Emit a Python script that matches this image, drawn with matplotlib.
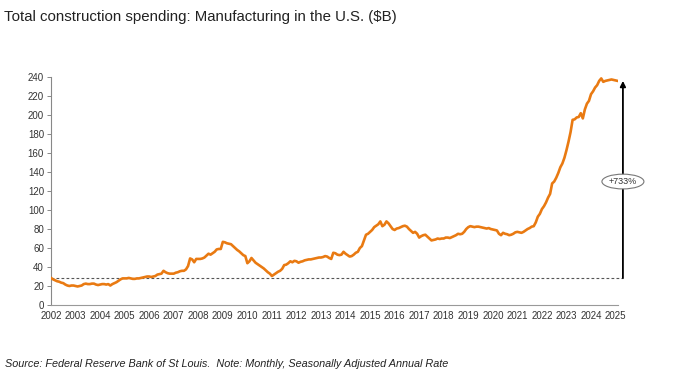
import matplotlib
matplotlib.use("Agg")
import matplotlib.pyplot as plt
import numpy as np

plt.rcParams['font.family'] = ['Liberation Sans', 'DejaVu Sans']

# monthly values, $B (Jan..Dec)
spend_2002 = [28.5, 27, 26, 25, 24.5, 23.5, 23, 21.5, 20.5, 20, 20.5, 20.5]
spend_2003 = [20, 19.5, 20, 20.5, 22, 22.5, 22, 22, 22.5, 22.5, 21.5, 21]
spend_2004 = [21.5, 22, 22, 21.5, 22, 20.5, 22, 23, 24, 25.5, 27, 28]
spend_2005 = [28, 28, 28.5, 28, 27.5, 27.5, 28, 28, 28.5, 29, 29.5, 30]
spend_2006 = [30, 29.5, 30, 30.5, 32, 32.5, 33, 36, 34.5, 33.5, 33, 33]
spend_2007 = [33, 34, 34.5, 35.5, 36, 36, 37.5, 41, 49, 48, 45, 48.5]
spend_2008 = [48.5, 48.5, 49, 50, 52, 54, 53, 54.5, 56, 58.5, 59, 59]
spend_2009 = [66.5, 66, 65, 64.5, 64, 62, 60, 58, 56.5, 54.5, 52.5, 51.5]
spend_2010 = [44, 46, 49.5, 47, 44.5, 43, 41.5, 40, 38.5, 36.5, 34.5, 33]
spend_2011 = [30.5, 32, 33.5, 35, 36, 38, 42, 42.5, 44, 46, 45, 46.5]
spend_2012 = [46, 44.5, 45.5, 46, 47, 47.5, 48, 48, 48.5, 49, 49.5, 50]
spend_2013 = [50, 50.5, 51.5, 51, 49.5, 48.5, 55, 54.5, 53, 52.5, 53, 56]
spend_2014 = [54, 52.5, 51, 51.5, 53, 55, 56, 60, 62, 68, 74, 75]
spend_2015 = [77, 79, 82, 83.5, 85, 88, 83, 84.5, 88, 86, 83, 80]
spend_2016 = [79, 80.5, 81, 82, 83, 83.5, 82.5, 80, 78, 76, 77, 75]
spend_2017 = [71, 72.5, 73.5, 74, 72, 70, 68, 68.5, 69, 70, 69.5, 70]
spend_2018 = [70, 71, 71, 70.5, 71.5, 72.5, 73.5, 75, 74.5, 75, 77, 80]
spend_2019 = [82, 83, 82.5, 82, 82.5, 82.5, 82, 81.5, 81, 80.5, 81, 80]
spend_2020 = [79.5, 79, 78.5, 75, 73.5, 76, 75, 74.5, 73.5, 74, 75, 76.5]
spend_2021 = [77, 76.5, 76, 77, 78.5, 80, 81, 82.5, 83, 87, 93, 96]
spend_2022 = [101, 104, 108, 113, 117, 128, 130, 134, 139, 145, 149, 155]
spend_2023 = [163, 172, 182, 195, 195.5, 197.5, 198, 202, 196.5, 206, 212, 215]
spend_2024 = [222, 225, 229, 231.5, 236, 238.6, 235, 236, 236.5, 237, 237.5, 237]
spend_2025 = [236.5, 236]

years = list(range(2002, 2026))
year_tick_labels = [str(y) for y in years]
base_value = 28.4
pct_label = "+733%"

spend = (spend_2002 + spend_2003 + spend_2004 + spend_2005 + spend_2006 + spend_2007
         + spend_2008 + spend_2009 + spend_2010 + spend_2011 + spend_2012 + spend_2013
         + spend_2014 + spend_2015 + spend_2016 + spend_2017 + spend_2018 + spend_2019
         + spend_2020 + spend_2021 + spend_2022 + spend_2023 + spend_2024 + spend_2025)
t = 2002 + np.arange(len(spend)) / 12.0

fig = plt.figure(figsize=(6.81, 3.83), dpi=100)
ax = fig.add_axes([0.0749, 0.2037, 0.8326, 0.595])

ax.plot(t, spend, color='#E97A12', lw=1.9, solid_joinstyle='round', zorder=3)

arrow_x = 2025.3
ax.plot([2002, arrow_x], [base_value, base_value], color='#555555', lw=0.8,
        ls=(0, (2.5, 2)), clip_on=False, zorder=2)
ax.annotate('', xy=(arrow_x, spend[-1]), xytext=(arrow_x, base_value),
            arrowprops=dict(arrowstyle='-|>', color='black', lw=1.3,
                            mutation_scale=8, shrinkA=0, shrinkB=0),
            annotation_clip=False)
ax.text(arrow_x, 130, pct_label, ha='center', va='center', fontsize=6.5,
        color='#333333',
        bbox=dict(boxstyle='ellipse,pad=0.08', fc='white', ec='#777777', lw=0.8),
        clip_on=False, zorder=5)

ax.set_xlim(2002, 2025.1)
ax.set_ylim(0, 240)
ax.set_yticks(range(0, 241, 20))
ax.set_xticks(years)
ax.set_xticklabels(year_tick_labels)
ax.tick_params(axis='x', length=0, pad=4, labelsize=7, colors='#333333')
ax.tick_params(axis='y', length=3, width=0.7, color='#888888', pad=2,
               labelsize=7, labelcolor='#333333')
for s in ['top', 'right']:
    ax.spines[s].set_visible(False)
ax.spines['left'].set_color('#888888')
ax.spines['bottom'].set_color('#999999')
ax.spines['left'].set_linewidth(0.8)
ax.spines['bottom'].set_linewidth(0.8)

fig.text(0.006, 0.955, "Total construction spending: Manufacturing in the U.S. ($B)",
         fontsize=10.8, color='#222222', va='center', ha='left')
fig.text(0.007, 0.05, "Source: Federal Reserve Bank of St Louis.  Note: Monthly, Seasonally Adjusted Annual Rate",
         fontsize=7.8, style='italic', color='#222222', va='center', ha='left')

fig.savefig('out.png', dpi=100)
